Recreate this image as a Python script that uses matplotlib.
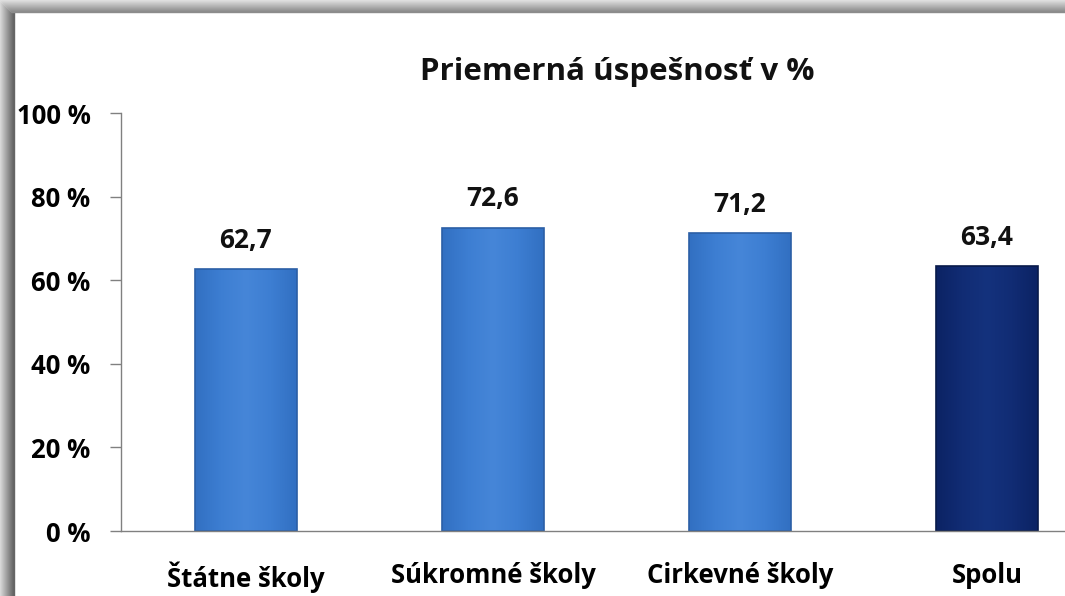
import matplotlib
matplotlib.use("Agg")
import matplotlib.pyplot as plt
from matplotlib.patches import Rectangle
from matplotlib.colors import LinearSegmentedColormap
import numpy as np

categories = ["Štátne školy", "Súkromné školy", "Cirkevné školy", "Spolu"]
values = [62.7, 72.6, 71.2, 63.4]
value_labels = ["62,7", "72,6", "71,2", "63,4"]
yticks = [0, 20, 40, 60, 80, 100]
ytick_labels = ["0 %", "20 %", "40 %", "60 %", "80 %", "100 %"]

W, H = 1065, 596
plt.rcParams["font.family"] = ["Open Sans", "DejaVu Sans"]
plt.rcParams["font.weight"] = "bold"

fig = plt.figure(figsize=(W / 100, H / 100), dpi=100)
fig.patch.set_facecolor("white")

# gray frame with shadow on the left and top
for i in range(14):
    g = 0.85 - 0.035 * i
    fig.patches.append(Rectangle((i / W, 0), 1 / W, 1 - i / H * 0.85,
                                 transform=fig.transFigure, color=str(g), zorder=0))
for i in range(12):
    g = 0.88 - 0.03 * i
    fig.patches.append(Rectangle((i / W, 1 - (i + 1) / H), 1 - i / W, 1 / H,
                                 transform=fig.transFigure, color=str(g), zorder=0))

ax = fig.add_axes([121 / W, 65 / H, (W - 121) / W, 418 / H])
ax.set_facecolor("none")

x = np.arange(len(categories))
light_cmap = LinearSegmentedColormap.from_list(
    "lb", ["#3270c2", "#3d7ed2", "#4686d8", "#3d7ed2", "#3270c2"])
dark_cmap = LinearSegmentedColormap.from_list(
    "db", ["#0c2364", "#112c74", "#14327d", "#112c74", "#0c2364"])
cmaps = [light_cmap, light_cmap, light_cmap, dark_cmap]
edges = ["#2b5fa6", "#2b5fa6", "#2b5fa6", "#081a4a"]
bars = ax.bar(x, values, width=0.41, color="none", edgecolor=edges, linewidth=1.2, zorder=4)

grad = np.linspace(0, 1, 64).reshape(1, -1)
for b, cm in zip(bars, cmaps):
    bx, bw, bh = b.get_x(), b.get_width(), b.get_height()
    im = ax.imshow(grad, cmap=cm, aspect="auto", extent=[bx, bx + bw, 0, bh],
                   zorder=3, interpolation="bicubic")
    im.set_clip_path(b)

for xi, v, lab in zip(x, values, value_labels):
    ax.text(xi, v + 3.6, lab, ha="center", va="bottom", fontsize=19,
            fontweight="bold", color="#111111")

ax.set_ylim(0, 100)
ax.set_xlim(-0.506, -0.506 + (W - 121) / 247)
ax.set_yticks(yticks)
ax.set_yticklabels(ytick_labels, fontsize=18.5, fontweight="bold")
ax.set_xticks(x)
ax.set_xticklabels(categories, fontsize=18.5, fontweight="bold")
ax.tick_params(axis="y", length=8, width=1, color="#808080", pad=14)
ax.tick_params(axis="x", length=0, pad=22)

for s in ["top", "right"]:
    ax.spines[s].set_visible(False)
for s in ["left", "bottom"]:
    ax.spines[s].set_color("#808080")
    ax.spines[s].set_linewidth(1)
    ax.spines[s].set_zorder(5)

fig.text(617 / W, 1 - 72 / H, "Priemerná úspešnosť v %", ha="center", va="center",
         fontsize=22.5, fontweight="bold", color="#111111")

fig.savefig("out.png", dpi=100)
